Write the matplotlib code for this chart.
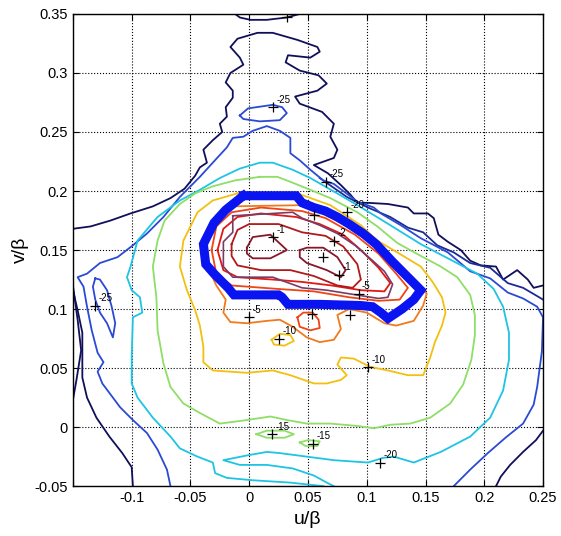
import matplotlib
matplotlib.use('Agg')
import matplotlib.pyplot as plt
import numpy as np


# ---------------- contour lines (u, v) ----------------
# level -35 (navy)
c35_top = [(-0.150, 0.168), (-0.135, 0.170), (-0.118, 0.175), (-0.101, 0.181),
           (-0.082, 0.187), (-0.067, 0.194), (-0.055, 0.202), (-0.046, 0.213),
           (-0.042, 0.220), (-0.036, 0.224), (-0.039, 0.235), (-0.031, 0.243),
           (-0.023, 0.250), (-0.025, 0.257), (-0.019, 0.263), (-0.020, 0.271),
           (-0.014, 0.279), (-0.014, 0.285), (-0.020, 0.292), (-0.016, 0.300),
           (-0.005, 0.307), (-0.008, 0.313), (-0.016, 0.322), (-0.010, 0.329),
           (0.007, 0.334), (0.020, 0.334), (0.041, 0.328), (0.058, 0.322),
           (0.060, 0.318), (0.052, 0.313), (0.033, 0.315), (0.031, 0.309),
           (0.043, 0.302), (0.059, 0.298), (0.066, 0.291), (0.058, 0.285),
           (0.039, 0.280), (0.043, 0.274), (0.062, 0.267), (0.072, 0.257),
           (0.069, 0.246), (0.075, 0.235), (0.072, 0.228), (0.055, 0.222),
           (0.067, 0.215), (0.078, 0.205), (0.086, 0.197), (0.092, 0.190),
           (0.101, 0.190), (0.118, 0.189), (0.135, 0.186), (0.140, 0.181),
           (0.152, 0.181), (0.157, 0.177), (0.161, 0.163), (0.169, 0.157),
           (0.180, 0.150), (0.188, 0.141), (0.197, 0.137), (0.210, 0.136),
           (0.216, 0.125), (0.228, 0.133), (0.237, 0.125), (0.242, 0.118),
           (0.250, 0.120)]
c35_cap = [(-0.012, 0.350), (-0.008, 0.347), (0.001, 0.345), (0.015, 0.345),
           (0.032, 0.347), (0.043, 0.350)]
c35_left = [(-0.150, 0.116), (-0.146, 0.099), (-0.142, 0.080), (-0.142, 0.059),
            (-0.142, 0.042), (-0.138, 0.025), (-0.130, 0.008), (-0.119, -0.008),
            (-0.108, -0.022), (-0.100, -0.034), (-0.099, -0.050)]
c35_edge = [(-0.150, 0.120), (-0.146, 0.091), (-0.143, 0.065), (-0.147, 0.040),
            (-0.150, 0.023)]
c35_corner = [(0.250, -0.003), (0.244, -0.011), (0.233, -0.021), (0.222, -0.032),
              (0.214, -0.042), (0.210, -0.050)]

# level -30 (dark blue)
c30 = [(0.060, 0.211), (0.083, 0.195), (0.101, 0.186), (0.120, 0.178),
       (0.135, 0.169), (0.148, 0.165), (0.160, 0.154), (0.174, 0.148),
       (0.188, 0.139), (0.205, 0.135), (0.220, 0.122), (0.233, 0.118),
       (0.245, 0.111), (0.250, 0.108)]

# level -25 (blue)
c25 = [(-0.067, -0.050), (-0.070, -0.036), (-0.078, -0.019), (-0.087, -0.005),
       (-0.099, 0.006), (-0.110, 0.017), (-0.116, 0.025), (-0.125, 0.037),
       (-0.129, 0.047), (-0.124, 0.055), (-0.129, 0.063), (-0.134, 0.082),
       (-0.138, 0.102), (-0.141, 0.119), (-0.146, 0.127), (-0.138, 0.130),
       (-0.127, 0.139), (-0.112, 0.144), (-0.099, 0.154), (-0.087, 0.164),
       (-0.073, 0.178), (-0.059, 0.195), (-0.042, 0.212), (-0.031, 0.224),
       (-0.019, 0.237), (-0.014, 0.245), (-0.005, 0.246), (0.003, 0.251),
       (0.015, 0.255), (0.026, 0.251), (0.035, 0.245), (0.035, 0.232),
       (0.043, 0.226), (0.052, 0.218), (0.063, 0.209), (0.072, 0.206),
       (0.080, 0.200), (0.092, 0.191), (0.106, 0.186), (0.112, 0.181),
       (0.129, 0.171), (0.146, 0.160), (0.169, 0.148), (0.188, 0.132),
       (0.205, 0.126), (0.220, 0.114), (0.233, 0.109), (0.245, 0.102),
       (0.250, 0.093), (0.249, 0.064), (0.245, 0.034), (0.242, 0.019),
       (0.233, 0.003), (0.218, -0.009), (0.203, -0.022), (0.188, -0.036),
       (0.174, -0.050)]
c25_top = [(-0.008, 0.264), (-0.001, 0.270), (0.020, 0.273), (0.028, 0.271),
           (0.032, 0.266), (0.026, 0.260), (0.009, 0.259), (-0.005, 0.261),
           (-0.008, 0.264)]
c25_left = [(-0.131, 0.126), (-0.127, 0.125), (-0.121, 0.116), (-0.117, 0.102),
            (-0.114, 0.088), (-0.116, 0.076), (-0.121, 0.088), (-0.127, 0.097),
            (-0.131, 0.108), (-0.133, 0.119), (-0.131, 0.126)]

# level -20 (cyan)
c20 = [(0.063, -0.050), (0.035, -0.047), (0.003, -0.045), (-0.019, -0.043),
       (-0.029, -0.039), (-0.031, -0.030), (-0.044, -0.025), (-0.059, -0.018),
       (-0.067, -0.008), (-0.082, 0.008), (-0.095, 0.025), (-0.100, 0.037),
       (-0.100, 0.059), (-0.099, 0.093), (-0.091, 0.097), (-0.093, 0.110),
       (-0.100, 0.116), (-0.104, 0.127), (-0.101, 0.136), (-0.095, 0.158),
       (-0.078, 0.178), (-0.059, 0.192), (-0.042, 0.201), (-0.025, 0.211),
       (-0.008, 0.219), (0.009, 0.224), (0.020, 0.224), (0.037, 0.218),
       (0.052, 0.211), (0.066, 0.203), (0.080, 0.195), (0.092, 0.188),
       (0.112, 0.176), (0.146, 0.155), (0.169, 0.143), (0.194, 0.130),
       (0.208, 0.117), (0.216, 0.102), (0.221, 0.080), (0.221, 0.057),
       (0.216, 0.031), (0.205, 0.008), (0.188, -0.008), (0.163, -0.021),
       (0.140, -0.030), (0.123, -0.025), (0.114, -0.026), (0.101, -0.030),
       (0.072, -0.028), (0.049, -0.025), (0.026, -0.022), (0.015, -0.021),
       (-0.002, -0.024), (-0.022, -0.028), (-0.008, -0.032), (0.015, -0.032),
       (0.037, -0.035), (0.055, -0.041), (0.066, -0.047), (0.072, -0.050)]

# level -15 (green)
c15 = [(0.009, 0.212), (0.024, 0.212), (0.037, 0.207), (0.052, 0.201),
       (0.069, 0.194), (0.092, 0.182), (0.109, 0.170), (0.126, 0.156),
       (0.146, 0.145), (0.163, 0.136), (0.177, 0.127), (0.188, 0.112),
       (0.192, 0.095), (0.192, 0.078), (0.189, 0.057), (0.182, 0.036),
       (0.171, 0.020), (0.154, 0.008), (0.137, 0.003), (0.120, 0.002),
       (0.106, -0.001), (0.092, 0.001), (0.069, 0.003), (0.049, 0.003),
       (0.032, 0.006), (0.018, 0.009), (-0.002, 0.006), (-0.025, 0.003),
       (-0.042, 0.012), (-0.056, 0.020), (-0.067, 0.034), (-0.073, 0.054),
       (-0.078, 0.082), (-0.079, 0.110), (-0.082, 0.136), (-0.078, 0.158),
       (-0.072, 0.175), (-0.059, 0.189), (-0.046, 0.198), (-0.031, 0.204),
       (-0.012, 0.209), (0.009, 0.212)]
c15_a = [(0.006, -0.006), (0.015, -0.003), (0.030, -0.003), (0.038, -0.006),
         (0.030, -0.009), (0.015, -0.009), (0.006, -0.006)]
c15_b = [(0.043, -0.013), (0.050, -0.011), (0.060, -0.012), (0.058, -0.016),
         (0.048, -0.016), (0.043, -0.013)]

# level -10 (yellow)
c10 = [(-0.010, 0.198), (0.041, 0.198), (0.069, 0.188), (0.095, 0.171),
       (0.109, 0.158), (0.126, 0.148), (0.146, 0.136), (0.156, 0.123),
       (0.164, 0.110), (0.167, 0.097), (0.164, 0.086), (0.158, 0.072),
       (0.154, 0.059), (0.148, 0.044), (0.135, 0.044), (0.118, 0.048),
       (0.103, 0.051), (0.089, 0.058), (0.078, 0.059), (0.075, 0.053),
       (0.083, 0.044), (0.078, 0.040), (0.066, 0.037), (0.055, 0.037),
       (0.035, 0.044), (0.020, 0.048), (-0.002, 0.046), (-0.031, 0.048),
       (-0.039, 0.055), (-0.039, 0.068), (-0.042, 0.086), (-0.046, 0.099),
       (-0.053, 0.116), (-0.059, 0.136), (-0.056, 0.158), (-0.044, 0.182),
       (-0.031, 0.192), (-0.010, 0.198)]
c10_isl = [(0.019, 0.074), (0.026, 0.079), (0.035, 0.078), (0.038, 0.073),
           (0.030, 0.069), (0.021, 0.070), (0.019, 0.074)]

# level -5 (orange)
c5 = [(-0.015, 0.187), (0.045, 0.188), (0.060, 0.182), (0.080, 0.172),
      (0.100, 0.160), (0.120, 0.145), (0.140, 0.125), (0.151, 0.113),
      (0.148, 0.103), (0.140, 0.090), (0.125, 0.086), (0.115, 0.088),
      (0.100, 0.097), (0.085, 0.100), (0.075, 0.095), (0.078, 0.083),
      (0.072, 0.074), (0.060, 0.072), (0.049, 0.076), (0.037, 0.085),
      (0.026, 0.091), (0.015, 0.090), (-0.002, 0.088), (-0.016, 0.089),
      (-0.022, 0.097), (-0.020, 0.108), (-0.028, 0.120), (-0.035, 0.135),
      (-0.036, 0.155), (-0.030, 0.170), (-0.022, 0.180), (-0.015, 0.187)]

# levels -4, -3, -2 (reds)
c4 = [(-0.032, 0.150), (-0.028, 0.170), (-0.015, 0.182), (0.010, 0.186),
      (0.045, 0.183), (0.065, 0.177), (0.090, 0.163), (0.110, 0.147),
      (0.125, 0.130), (0.135, 0.118), (0.128, 0.108), (0.110, 0.107),
      (0.085, 0.110), (0.055, 0.115), (0.025, 0.117), (-0.015, 0.120),
      (-0.028, 0.130), (-0.032, 0.150)]
c4_isl = [(0.041, 0.093), (0.043, 0.085), (0.052, 0.082), (0.060, 0.084),
          (0.059, 0.091), (0.054, 0.097), (0.046, 0.097), (0.041, 0.093)]
c3 = [(-0.027, 0.150), (-0.022, 0.168), (-0.010, 0.178), (0.010, 0.181),
      (0.040, 0.178), (0.060, 0.172), (0.080, 0.163), (0.095, 0.150),
      (0.110, 0.135), (0.120, 0.122), (0.115, 0.115), (0.095, 0.116),
      (0.070, 0.120), (0.045, 0.123), (0.020, 0.125), (-0.010, 0.127),
      (-0.022, 0.133), (-0.027, 0.150)]
c2 = [(-0.015, 0.155), (-0.010, 0.167), (0.000, 0.172), (0.025, 0.172),
      (0.045, 0.165), (0.065, 0.162), (0.080, 0.153), (0.092, 0.138),
      (0.095, 0.125), (0.088, 0.118), (0.075, 0.120), (0.055, 0.128),
      (0.035, 0.133), (0.010, 0.133), (-0.010, 0.137), (-0.015, 0.145),
      (-0.015, 0.155)]

# level -1 (maroon), two minima
c1_a = [(-0.002, 0.152), (0.003, 0.161), (0.018, 0.163), (0.032, 0.150),
        (0.018, 0.143), (0.003, 0.143), (-0.002, 0.147), (-0.002, 0.152)]
c1_b = [(0.043, 0.150), (0.049, 0.152), (0.063, 0.152), (0.075, 0.144),
        (0.082, 0.133), (0.078, 0.127), (0.066, 0.133), (0.049, 0.139),
        (0.043, 0.144), (0.043, 0.150)]

# thick region outline and thin stepped outline
region = [(-0.005, 0.196), (0.040, 0.196), (0.045, 0.190), (0.055, 0.186),
          (0.065, 0.183), (0.075, 0.178), (0.085, 0.172), (0.097, 0.164),
          (0.108, 0.155), (0.122, 0.140), (0.135, 0.127), (0.146, 0.116),
          (0.140, 0.108), (0.130, 0.100), (0.118, 0.092), (0.112, 0.097),
          (0.105, 0.102), (0.095, 0.103), (0.060, 0.104), (0.033, 0.104),
          (0.028, 0.110), (0.025, 0.112), (-0.013, 0.112), (-0.018, 0.118),
          (-0.030, 0.130), (-0.037, 0.138), (-0.039, 0.155), (-0.035, 0.163),
          (-0.030, 0.173), (-0.020, 0.184), (-0.005, 0.196)]
steps = [(-0.014, 0.179), (0.037, 0.182), (0.045, 0.177), (0.060, 0.171),
         (0.075, 0.164), (0.090, 0.154), (0.105, 0.141), (0.115, 0.132),
         (0.122, 0.121), (0.118, 0.110), (0.110, 0.109), (0.066, 0.116),
         (0.045, 0.118), (0.020, 0.127), (-0.014, 0.127), (-0.022, 0.136),
         (-0.022, 0.157), (-0.014, 0.165), (-0.014, 0.179)]

# clabel marks: position and text
label_pos = [(0.020, 0.161), (0.072, 0.158), (0.076, 0.129), (0.000, 0.093),
             (0.093, 0.113), (0.025, 0.075), (0.101, 0.051), (0.019, -0.006),
             (0.054, -0.014), (0.111, -0.030), (-0.131, 0.103), (0.020, 0.271),
             (0.065, 0.208), (0.083, 0.182)]
label_txt = ['-1', '-2', '-1', '-5', '-5', '-10', '-10', '-15', '-15', '-20',
             '-25', '-25', '-25', '-20']
plus_only = [(0.055, 0.180), (0.063, 0.144), (0.053, 0.096), (0.086, 0.095),
             (0.032, 0.347)]

level_colors = {-35: '#10105a', -30: '#1c2a94', -25: '#2a4ad4', -20: '#1ec4e4',
                -15: '#8ede68', -10: '#f2c010', -5: '#f07a1e', -4: '#ee4416',
                -3: '#e01818', -2: '#b01a1a', -1: '#85182c'}

lines = [(c35_top, -35), (c35_cap, -35), (c35_left, -35), (c35_edge, -35),
         (c35_corner, -35), (c30, -30), (c25, -25), (c25_top, -25),
         (c25_left, -25), (c20, -20), (c15, -15), (c15_a, -15), (c15_b, -15),
         (c10, -10), (c10_isl, -10), (c5, -5), (c4, -4), (c4_isl, -4),
         (c3, -3), (c2, -2), (c1_a, -1), (c1_b, -1)]


fig = plt.figure(figsize=(5.61, 5.36), dpi=100)
ax = fig.add_axes([0.130, 0.093, 0.838, 0.881])

for pts, lev in lines:
    xy = np.array(pts)
    ax.plot(xy[:, 0], xy[:, 1], '-', color=level_colors[lev], lw=1.3,
            solid_joinstyle='round')

reg = np.array(region)
ax.plot(reg[:, 0], reg[:, 1], '-', color='#0a14f0', lw=6.5,
        solid_joinstyle='miter')
st = np.array(steps)
ax.plot(st[:, 0], st[:, 1], '-', color='#7a3c66', lw=1.2)

for (x, y), txt in zip(label_pos, label_txt):
    ax.plot(x, y, '+', color='k', ms=7, mew=0.9)
    ax.text(x + 0.003, y + 0.002, txt, fontsize=7, ha='left', va='bottom',
            family='Liberation Sans')
for x, y in plus_only:
    ax.plot(x, y, '+', color='k', ms=7, mew=0.9)

ax.set_xlim(-0.15, 0.25)
ax.set_ylim(-0.05, 0.35)
ax.set_xticks([-0.15, -0.1, -0.05, 0, 0.05, 0.1, 0.15, 0.2, 0.25])
ax.set_xticklabels(['', '-0.1', '-0.05', '0', '0.05', '0.1', '0.15', '0.2', '0.25'])
ax.set_yticks([-0.05, 0, 0.05, 0.1, 0.15, 0.2, 0.25, 0.3, 0.35])
ax.set_yticklabels(['-0.05', '0', '0.05', '0.1', '0.15', '0.2', '0.25', '0.3', '0.35'])
ax.grid(True, linestyle=':', color='k', lw=0.8)
ax.tick_params(direction='in', top=True, right=True, length=4, labelsize=10.5)
for lab in ax.get_xticklabels() + ax.get_yticklabels():
    lab.set_family('Liberation Sans')
for sp in ax.spines.values():
    sp.set_linewidth(1.0)

ax.set_xlabel('u/β', fontsize=14, family='Liberation Sans', labelpad=4)
ax.set_ylabel('v/β', fontsize=14, family='Liberation Sans', labelpad=4)

plt.savefig('out.png', dpi=100)
